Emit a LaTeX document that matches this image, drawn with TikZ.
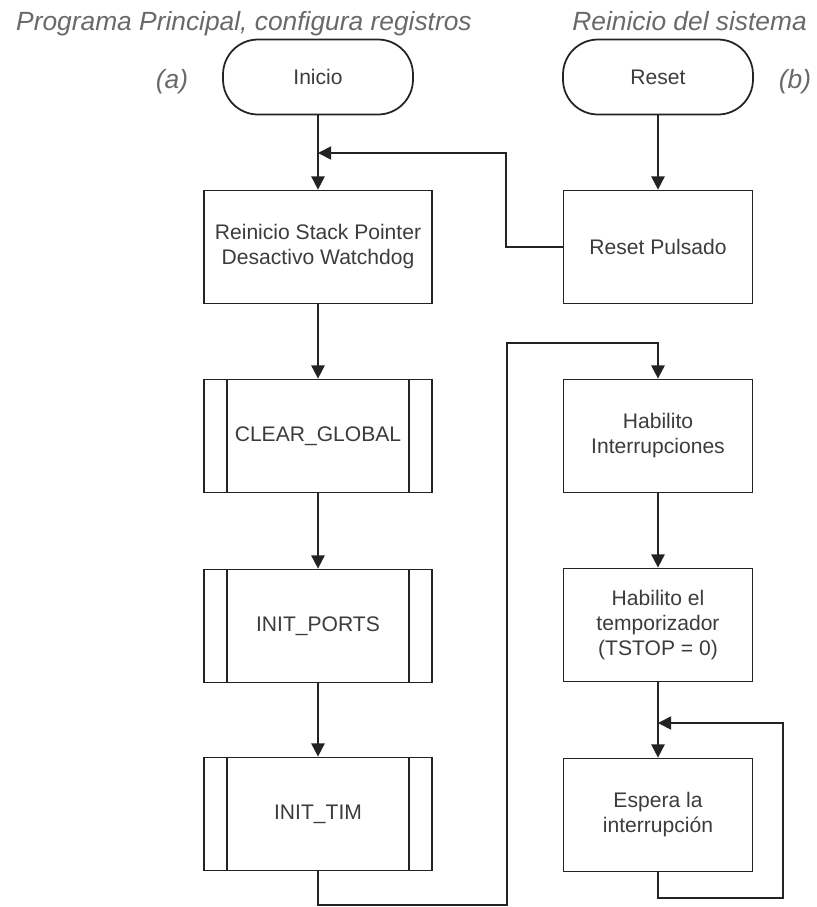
\documentclass[tikz,border=0pt]{standalone}
\usepackage{fontspec}
\setmainfont{Liberation Sans}
\usepackage{tikz}
\usetikzlibrary{arrows.meta, positioning, calc, shapes}
\usepackage{xcolor}
\definecolor{ink}{RGB}{35,35,35}
\definecolor{boxtext}{RGB}{60,60,60}
\definecolor{titlegray}{RGB}{105,105,105}

\begin{document}
\begin{tikzpicture}[x=0.02cm, y=-0.02cm,
  every node/.style={font=\fontsize{12}{14.2}\selectfont, text=boxtext},
  proc/.style={draw=ink, line width=1pt, minimum width=4.56cm, minimum height=2.26cm, align=center, inner sep=0pt},
  procr/.style={proc, minimum width=3.78cm},
  term/.style={draw=ink, line width=1pt, rounded corners=0.7cm, minimum width=3.8cm, minimum height=1.5cm},
  line/.style={draw=ink, line width=1pt},
  arr/.style={line, -{Triangle[width=7.5pt, length=7.5pt]}},
  ttl/.style={font=\fontsize{15}{17}\selectfont\itshape, text=titlegray}]
  \useasboundingbox (0,0) rectangle (817,907);
  % Titles
  \node[ttl, anchor=base west] (titlea) at (10,30) {Programa Principal, configura registros};
  \node[ttl, anchor=base east] (titleb) at (813,30) {Reinicio del sistema};
  \node[ttl] (laba) at (172,82) {(a)};
  \node[ttl] (labb) at (795,82) {(b)};
  % Main program
  \node[term] (inicio) at (318,77) {Inicio};
  \node[proc] (stack) at (318,247) {Reinicio Stack Pointer\\Desactivo Watchdog};
  \node[proc] (clear) at (318,436) {CLEAR\_GLOBAL};
  \node[proc] (ports) at (318,626) {INIT\_PORTS};
  \node[proc] (tim) at (318,814) {INIT\_TIM};
  \foreach \n in {clear, ports, tim} {
    \draw[line] ([xshift=0.48cm]\n.north west) -- ([xshift=0.48cm]\n.south west);
    \draw[line] ([xshift=-0.48cm]\n.north east) -- ([xshift=-0.48cm]\n.south east);
  }
  % Reset branch
  \node[term] (reset) at (658,77) {Reset};
  \node[procr] (pulsado) at (658,247) {Reset Pulsado};
  \node[procr] (inter) at (658,436) {Habilito\\Interrupciones};
  \node[procr] (temp) at (658,625) {Habilito el\\temporizador\\(TSTOP = 0)};
  \node[procr] (espera) at (658,815) {Espera la\\interrupción};
  % Joints
  \coordinate (back) at (318,153);
  \coordinate (lowleft) at (507,905);
  \coordinate (upleft) at (507,343);
  \coordinate (loop) at (658,723);
  \coordinate (loopbot) at (783,898);
  % Connectors
  \draw[arr] (inicio) -- (stack);
  \draw[arr] (stack) -- (clear);
  \draw[arr] (clear) -- (ports);
  \draw[arr] (ports) -- (tim);
  \draw[arr] (reset) -- (pulsado);
  \draw[arr] (pulsado.west) -- ++(-57,0) |- (back);
  \draw[arr] (tim.south) |- (lowleft) -- (upleft) -| (inter.north);
  \draw[arr] (inter) -- (temp);
  \draw[arr] (temp) -- (espera);
  \draw[arr] (espera.south) |- (loopbot) |- (loop);
\end{tikzpicture}
\end{document}
